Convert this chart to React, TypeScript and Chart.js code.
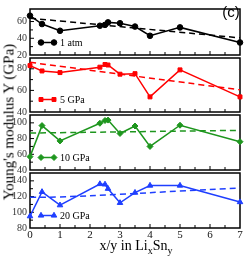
import React, { useEffect, useRef } from 'react';
import { Chart, registerables } from 'chart.js';
import { drawPoint } from 'chart.js/helpers';

Chart.register(...registerables);

// ---- data ----
const compositions = [0, 0.4, 1, 2.33, 2.5, 2.6, 3, 3.5, 4, 5, 7];
const modulus1atm = [67, 57, 49, 55, 56, 59, 58, 54, 43, 53, 35];
const modulus5GPa = [83, 78, 76.5, 81.5, 84, 83.5, 75, 75.5, 54, 79, 54];
const modulus10GPa = [57, 96.5, 77, 99.5, 103, 103.5, 86.5, 96, 70, 97, 76];
const modulus20GPa = [95, 126, 109, 136, 135.5, 130, 112, 125, 134, 134, 113];

const fitX = [0, 7];
const fit1atm = [64, 40.5];
const fit5GPa = [86, 60.5];
const fit10GPa = [87, 90.5];
const fitX20 = [0, 1, 3, 5, 7];
const fit20GPa = [119, 119.5, 123, 127, 131];

const pressureLabels = ['1 atm', '5 GPa', '10 GPa', '20 GPa'];
const yMins = [20, 40, 40, 80];
const yMaxs = [75, 90, 110, 150];
const xTickLabels = [0, 1, 2, 3, 4, 5, 6, 7];

// ---- layout/style ----
const W = 245;
const H = 256;
const panelTops = [2, 58, 115, 173];
const panelBottoms = [55, 112, 170, 228];
const colors = ['#000000', '#ff0000', '#1e961e', '#1f3fff'];
const pointStyles = ['circle', 'rect', 'rectRot', 'triangle'];
const pointRadii = [2.8, 2.8, 3.0, 3.2];
const serif = '"Liberation Serif", "Times New Roman", serif';

const framePlugin = {
  id: 'panelFrame',
  beforeDatasetsDraw(chart: any) {
    const { ctx, chartArea } = chart;
    const { left, right, top, bottom } = chartArea;
    ctx.save();
    ctx.strokeStyle = '#000';
    ctx.lineWidth = 1.5;
    ctx.strokeRect(left, top, right - left, bottom - top);
    ctx.lineWidth = 1;
    const xs = chart.scales.x;
    xs.ticks.forEach((t: any) => {
      const px = xs.getPixelForValue(t.value);
      if (px <= left + 1 || px >= right - 1) return;
      const len = Number.isInteger(t.value) ? 4 : 3;
      ctx.beginPath();
      ctx.moveTo(px, bottom);
      ctx.lineTo(px, bottom - len);
      ctx.stroke();
    });
    const ys = chart.scales.y;
    ys.ticks.forEach((t: any) => {
      if (t.value % 10 !== 0) return;
      const py = ys.getPixelForValue(t.value);
      if (py <= top + 1 || py >= bottom - 1) return;
      const len = t.value % 20 === 0 ? 4 : 3;
      ctx.beginPath();
      ctx.moveTo(left, py);
      ctx.lineTo(left + len, py);
      ctx.stroke();
    });
    ctx.restore();
  },
};

const legendPlugin = {
  id: 'panelLegend',
  afterDatasetsDraw(chart: any) {
    const { ctx, chartArea } = chart;
    const ds = chart.data.datasets[0];
    const y = chartArea.bottom - 12.5;
    const x1 = chartArea.left + 11;
    const x2 = chartArea.left + 24;
    ctx.save();
    ctx.strokeStyle = ds.borderColor;
    ctx.fillStyle = ds.backgroundColor;
    ctx.lineWidth = 1.5;
    ctx.beginPath();
    ctx.moveTo(x1, y);
    ctx.lineTo(x2, y);
    ctx.stroke();
    ctx.lineWidth = 1;
    const opts = { pointStyle: ds.pointStyle, radius: ds.pointRadius, borderWidth: 1, rotation: 0 };
    drawPoint(ctx, opts, x1, y);
    drawPoint(ctx, opts, x2, y);
    ctx.fillStyle = '#000';
    ctx.font = `10px ${serif}`;
    ctx.textBaseline = 'middle';
    ctx.textAlign = 'left';
    ctx.fillText(ds.label, chartArea.left + 30, y + 0.5);
    ctx.restore();
  },
};

function Panel({ index, values, fitXs, fitYs }: { index: number; values: number[]; fitXs: number[]; fitYs: number[] }) {
  const ref = useRef<HTMLCanvasElement | null>(null);
  useEffect(() => {
    if (!ref.current) return;
    const isBottom = index === 3;
    const chart = new Chart(ref.current, {
      type: 'line',
      data: {
        datasets: [
          {
            label: pressureLabels[index],
            data: compositions.map((x, i) => ({ x, y: values[i] })),
            borderColor: colors[index],
            backgroundColor: colors[index],
            pointStyle: pointStyles[index] as any,
            pointRadius: pointRadii[index],
            pointBorderWidth: 1,
            borderWidth: 1.5,
            tension: 0,
            clip: 5,
          } as any,
          {
            label: 'fit',
            data: fitXs.map((x, i) => ({ x, y: fitYs[i] })),
            borderColor: colors[index],
            borderDash: [6, 4],
            borderWidth: 1.5,
            pointRadius: 0,
            tension: 0.4,
            clip: 2,
          } as any,
        ],
      },
      options: {
        responsive: false,
        animation: false,
        devicePixelRatio: 1,
        layout: {
          padding: {
            top: panelTops[index],
            bottom: isBottom ? 0 : H - panelBottoms[index],
            left: 0,
            right: 3.5,
          },
        },
        plugins: { legend: { display: false }, tooltip: { enabled: false }, title: { display: false } },
        scales: {
          x: {
            type: 'linear',
            min: 0,
            max: 7,
            grid: { display: false, drawTicks: false },
            border: { display: false },
            ticks: {
              display: isBottom,
              stepSize: 0.5,
              autoSkip: false,
              maxRotation: 0,
              padding: 1,
              color: '#111',
              font: { family: serif, size: 11 },
              callback: (v: any) => (xTickLabels.includes(v) ? String(v) : ''),
            },
            afterFit: (s: any) => {
              s.height = isBottom ? H - panelBottoms[index] : 0;
            },
          },
          y: {
            min: yMins[index],
            max: yMaxs[index],
            grid: { display: false, drawTicks: false },
            border: { display: false },
            ticks: {
              stepSize: 10,
              autoSkip: false,
              padding: 3,
              color: '#333',
              font: { family: serif, size: 10 },
              callback: (v: any) => (v % 20 === 0 ? String(v) : ''),
            },
            afterFit: (s: any) => {
              s.width = 30;
            },
          },
        },
      },
      plugins: [framePlugin, legendPlugin],
    } as any);
    return () => chart.destroy();
  }, [index, values, fitXs, fitYs]);
  return (
    <canvas
      ref={ref}
      width={W}
      height={H}
      style={{ position: 'absolute', left: 0, top: 0, width: W, height: H }}
    />
  );
}

export default function App() {
  return (
    <div style={{ position: 'absolute', left: 0, top: 0, width: W, height: H, background: '#fff', overflow: 'hidden' }}>
      <Panel index={0} values={modulus1atm} fitXs={fitX} fitYs={fit1atm} />
      <Panel index={1} values={modulus5GPa} fitXs={fitX} fitYs={fit5GPa} />
      <Panel index={2} values={modulus10GPa} fitXs={fitX} fitYs={fit10GPa} />
      <Panel index={3} values={modulus20GPa} fitXs={fitX20} fitYs={fit20GPa} />
      <div
        style={{
          position: 'absolute',
          left: 231,
          top: 11,
          transform: 'translate(-50%, -50%)',
          font: '15px "Liberation Sans", Arial, sans-serif',
          whiteSpace: 'nowrap',
        }}
      >
        (c)
      </div>
      <div
        style={{
          position: 'absolute',
          left: 9,
          top: 122,
          transform: 'translate(-50%, -50%) rotate(-90deg)',
          font: `15px ${serif}`,
          whiteSpace: 'nowrap',
          lineHeight: '15px',
        }}
      >
        Young's modulus Y (GPa)
      </div>
      <div
        style={{
          position: 'absolute',
          left: 136,
          top: 246,
          transform: 'translate(-50%, -50%)',
          font: `14px ${serif}`,
          whiteSpace: 'nowrap',
          lineHeight: '14px',
        }}
      >
        x/y in Li
        <sub style={{ fontSize: 10, verticalAlign: -4, lineHeight: 0 }}>x</sub>
        Sn
        <sub style={{ fontSize: 10, verticalAlign: -4, lineHeight: 0 }}>y</sub>
      </div>
    </div>
  );
}
